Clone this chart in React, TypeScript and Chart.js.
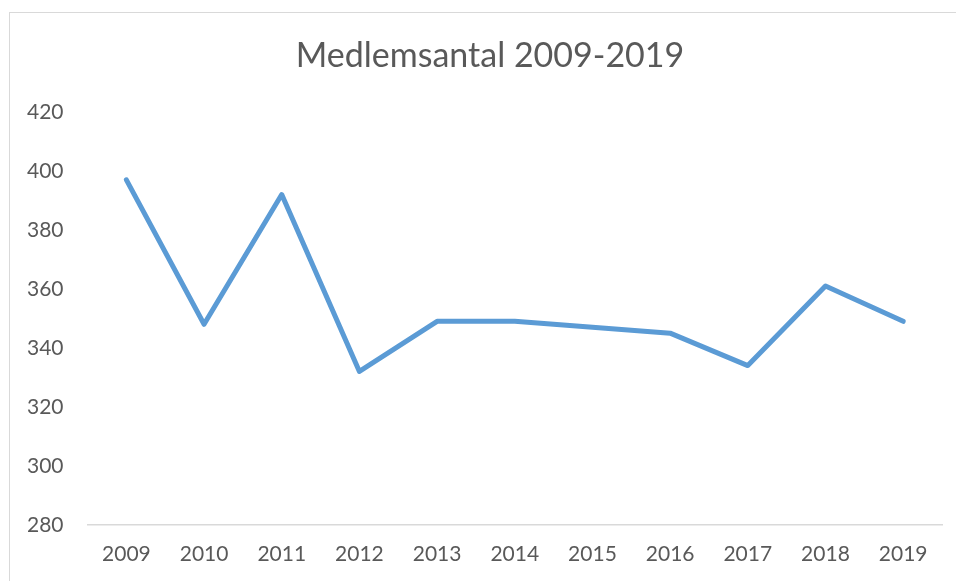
import React, { useEffect, useRef } from "react";
import { Chart, registerables } from "chart.js";

Chart.register(...registerables);

const years = ["2009", "2010", "2011", "2012", "2013", "2014", "2015", "2016", "2017", "2018", "2019"];
const members = [397, 348, 392, 332, 349, 349, 347, 345, 334, 361, 349];
const titleText = "Medlemsantal 2009-2019";
const yMin = 280;
const yMax = 420;
const yStep = 20;

const FONT = "Lato, 'Open Sans', sans-serif";
const TEXT = "#595959";

const titlePlugin = {
  id: "frameTitle",
  afterDraw(chart: any) {
    const ctx = chart.ctx;
    ctx.save();
    ctx.fillStyle = TEXT;
    ctx.font = `normal 34px ${FONT}`;
    ctx.textAlign = "center";
    ctx.textBaseline = "middle";
    ctx.fillText(titleText, chart.width / 2 + 12, 56);
    ctx.restore();
  },
};

export default function App() {
  const ref = useRef<HTMLCanvasElement | null>(null);

  useEffect(() => {
    document.body.style.margin = "0";
    document.body.style.overflow = "hidden";
    const canvas = ref.current;
    if (!canvas) return;
    const chart = new Chart(canvas, {
      type: "line",
      data: {
        labels: years,
        datasets: [
          {
            label: "Medlemsantal",
            data: members,
            borderColor: "#5B9BD5",
            backgroundColor: "#5B9BD5",
            borderWidth: 5,
            borderCapStyle: "round",
            borderJoinStyle: "round",
            pointRadius: 0,
            pointHoverRadius: 0,
            tension: 0,
          },
        ],
      },
      options: {
        animation: false,
        responsive: false,
        maintainAspectRatio: false,
        layout: { padding: { left: 3, right: 14, top: 112, bottom: -3 } },
        plugins: {
          legend: { display: false },
          tooltip: { enabled: false },
          title: { display: false },
        },
        scales: {
          x: {
            offset: true,
            grid: { display: false, drawTicks: false },
            border: { display: true, color: "#d9d9d9", width: 1.5 },
            ticks: {
              color: TEXT,
              font: { family: FONT, size: 21 },
              padding: 17,
              maxRotation: 0,
            },
          },
          y: {
            min: yMin,
            max: yMax,
            grid: { display: false, drawTicks: false },
            border: { display: false },
            ticks: {
              stepSize: yStep,
              color: TEXT,
              font: { family: FONT, size: 21 },
              padding: 24,
            },
          },
        },
      },
      plugins: [titlePlugin],
    });
    return () => chart.destroy();
  }, []);

  return (
    <div style={{ position: "fixed", left: 0, top: 0, width: 956, height: 581, background: "#fff" }}>
      <div
        style={{
          position: "absolute",
          left: 9,
          top: 12,
          width: 960,
          height: 600,
          borderLeft: "1.5px solid #d9d9d9",
          borderTop: "1.5px solid #d9d9d9",
          boxSizing: "border-box",
        }}
      />
      <canvas ref={ref} width={956} height={581} style={{ position: "absolute", left: 0, top: 0, width: 956, height: 581 }} />
    </div>
  );
}
